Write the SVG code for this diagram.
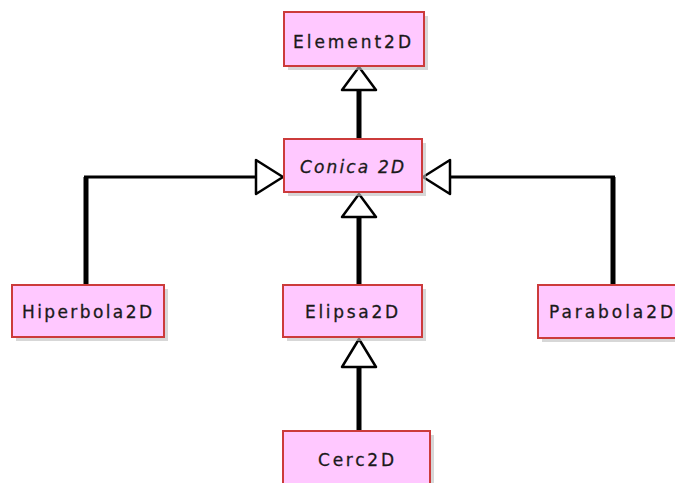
<svg xmlns="http://www.w3.org/2000/svg" width="675" height="483" viewBox="0 0 675 483">
  <defs>
    <style>
      .box { fill: #ffc8ff; stroke: #cc3b3b; stroke-width: 2; }
      .shadow { fill: #bdbdbd; opacity: 0.6; }
      .label { font-family: "DejaVu Sans", "Liberation Sans", sans-serif; font-size: 17px; fill: #1a1a1a; stroke: #1a1a1a; stroke-width: 0.3; text-anchor: middle; }
      .italic { font-style: italic; }
      .wire { fill: none; stroke: #000; stroke-width: 5; stroke-linecap: butt; stroke-linejoin: miter; }
      .wire-thin { fill: none; stroke: #000; stroke-width: 3; }
      .head { fill: #fff; stroke: #000; stroke-width: 2.5; stroke-linejoin: round; }
    </style>
  </defs>

  <rect width="675" height="483" fill="#fff"/>

  <!-- generalization connectors -->
  <g id="connectors">
    <!-- Conica2D -> Element2D -->
    <line class="wire" x1="359" y1="90" x2="359" y2="139"/>
    <polygon class="head" points="359,67 342,90 376,90"/>
    <!-- Elipsa2D -> Conica2D -->
    <line class="wire" x1="359" y1="217" x2="359" y2="285"/>
    <polygon class="head" points="359,194 342,217 376,217"/>
    <!-- Cerc2D -> Elipsa2D -->
    <line class="wire" x1="359" y1="367" x2="359" y2="431"/>
    <polygon class="head" points="359,339 342,367 376,367"/>
    <!-- Hiperbola2D -> Conica2D -->
    <line class="wire" x1="86" y1="285" x2="86" y2="177"/>
    <polyline class="wire-thin" points="84,177 256,177"/>
    <polygon class="head" points="283,177 256,160 256,194"/>
    <!-- Parabola2D -> Conica2D -->
    <line class="wire" x1="613" y1="285" x2="613" y2="177"/>
    <polyline class="wire-thin" points="615,177 450,177"/>
    <polygon class="head" points="423,177 450,160 450,194"/>
  </g>

  <g id="element2d">
    <rect class="shadow" x="288" y="16" width="140" height="54"/>
    <rect class="box" x="284" y="12" width="140" height="54"/>
    <text class="label" x="352" y="48" textLength="118" lengthAdjust="spacing">Element2D</text>
  </g>

  <g id="conica2d">
    <rect class="shadow" x="288" y="143" width="138" height="53"/>
    <rect class="box" x="284" y="139" width="138" height="53"/>
    <text class="label italic" x="352" y="173" textLength="104" lengthAdjust="spacing">Conica 2D</text>
  </g>

  <g id="hiperbola2d">
    <rect class="shadow" x="16" y="289" width="152" height="52"/>
    <rect class="box" x="12" y="285" width="152" height="52"/>
    <text class="label" x="87" y="318" textLength="130" lengthAdjust="spacing">Hiperbola2D</text>
  </g>

  <g id="elipsa2d">
    <rect class="shadow" x="287" y="289" width="139" height="52"/>
    <rect class="box" x="283" y="285" width="139" height="52"/>
    <text class="label" x="351.5" y="318" textLength="93" lengthAdjust="spacing">Elipsa2D</text>
  </g>

  <g id="parabola2d">
    <rect class="shadow" x="542" y="289" width="140" height="53"/>
    <rect class="box" x="538" y="285" width="140" height="53"/>
    <text class="label" x="611" y="318" textLength="124" lengthAdjust="spacing">Parabola2D</text>
  </g>

  <g id="cerc2d">
    <rect class="shadow" x="287" y="435" width="147" height="60"/>
    <rect class="box" x="283" y="431" width="147" height="60"/>
    <text class="label" x="356" y="466" textLength="76" lengthAdjust="spacing">Cerc2D</text>
  </g>
</svg>
